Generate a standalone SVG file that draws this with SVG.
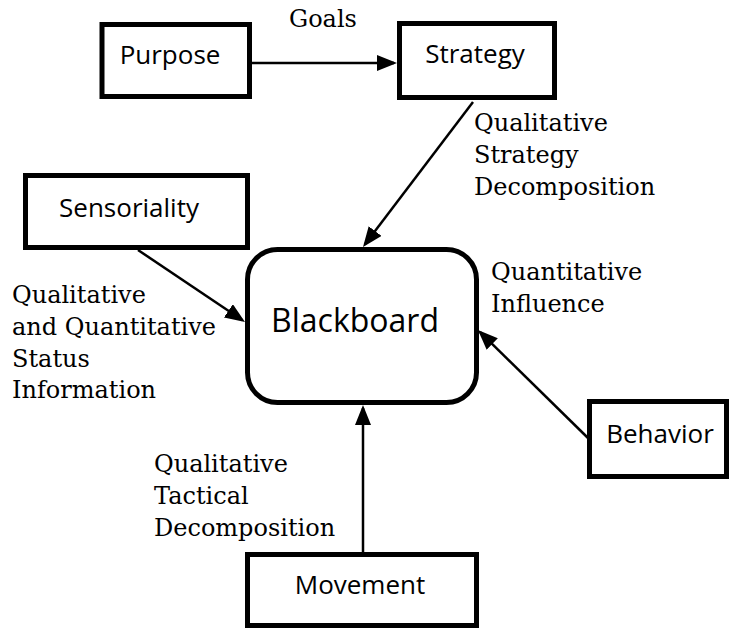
<svg xmlns="http://www.w3.org/2000/svg" width="733" height="629" viewBox="0 0 733 629">
  <style>
    .box { fill: #fff; stroke: #000; stroke-width: 5; }
    .node-label { font-family: "Open Sans", "DejaVu Sans", sans-serif; font-size: 26px; fill: #000; text-anchor: middle; }
    .hub-label { font-family: "Open Sans", "DejaVu Sans", sans-serif; font-size: 32px; fill: #000; text-anchor: middle; }
    .edge { fill: none; stroke: #000; stroke-width: 2.5; marker-end: url(#arrow); }
    .edge-label { font-family: "DejaVu Serif", "Liberation Serif", serif; font-size: 24px; fill: #000; }
  </style>
  <defs>
    <marker id="arrow" markerUnits="userSpaceOnUse" markerWidth="20" markerHeight="16" refX="17" refY="8" orient="auto">
      <path d="M0,0 L20,8 L0,16 z" fill="#000"/>
    </marker>
  </defs>

  <rect width="733" height="629" fill="#fff"/>

  <!-- connectors -->
  <g id="connectors">
    <line class="edge" x1="252" y1="63" x2="394" y2="63"/>
    <line class="edge" x1="473" y1="102" x2="364.8" y2="244.6"/>
    <line class="edge" x1="138" y1="250" x2="242.5" y2="320.3"/>
    <line class="edge" x1="588" y1="438" x2="480.1" y2="332.1"/>
    <line class="edge" x1="363" y1="552" x2="363" y2="408"/>

    <text class="edge-label" x="289" y="27">Goals</text>
    <text class="edge-label" x="474" y="131">Qualitative</text>
    <text class="edge-label" x="474" y="163">Strategy</text>
    <text class="edge-label" x="474" y="195">Decomposition</text>
    <text class="edge-label" x="12" y="303">Qualitative</text>
    <text class="edge-label" x="12" y="335">and Quantitative</text>
    <text class="edge-label" x="12" y="367">Status</text>
    <text class="edge-label" x="12" y="398">Information</text>
    <text class="edge-label" x="491" y="280">Quantitative</text>
    <text class="edge-label" x="491" y="312">Influence</text>
    <text class="edge-label" x="154" y="472">Qualitative</text>
    <text class="edge-label" x="154" y="504">Tactical</text>
    <text class="edge-label" x="154" y="536">Decomposition</text>
  </g>

  <!-- nodes -->
  <g id="purpose">
    <rect class="box" x="102" y="24.5" width="147.5" height="72"/>
    <text class="node-label" x="170" y="64">Purpose</text>
  </g>
  <g id="strategy">
    <rect class="box" x="399.5" y="23.5" width="155" height="74"/>
    <text class="node-label" x="475" y="63">Strategy</text>
  </g>
  <g id="sensoriality">
    <rect class="box" x="25.5" y="175.5" width="222" height="72"/>
    <text class="node-label" x="129" y="217">Sensoriality</text>
  </g>
  <g id="blackboard">
    <rect class="box" x="247.5" y="249.5" width="229" height="153" rx="30" ry="30"/>
    <text class="hub-label" x="355" y="332">Blackboard</text>
  </g>
  <g id="behavior">
    <rect class="box" x="589.5" y="401.5" width="137" height="75"/>
    <text class="node-label" x="660" y="443">Behavior</text>
  </g>
  <g id="movement">
    <rect class="box" x="247.5" y="554.5" width="229" height="71"/>
    <text class="node-label" x="360" y="594">Movement</text>
  </g>
</svg>
